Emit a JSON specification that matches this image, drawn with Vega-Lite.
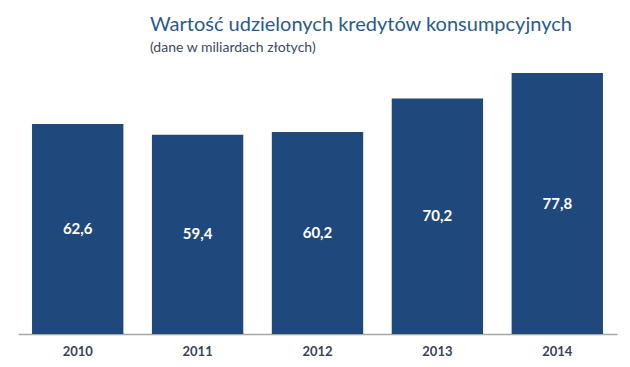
{
  "$schema": "https://vega.github.io/schema/vega-lite/v6.json",
  "width": 599,
  "height": 261,
  "autosize": {"type": "none"},
  "padding": {"left": 18, "top": 73, "right": 13, "bottom": 33},
  "background": "white",
  "view": {"stroke": null},
  "title": {
    "text": "Wartość udzielonych kredytów konsumpcyjnych",
    "subtitle": "(dane w miliardach złotych)",
    "anchor": "start",
    "dx": 132,
    "offset": 18,
    "font": "Lato",
    "fontSize": 20,
    "fontWeight": "normal",
    "color": "#2A5A8C",
    "subtitleFont": "Lato",
    "subtitleFontSize": 14,
    "subtitleColor": "#3A4A60",
    "subtitlePadding": 6
  },
  "data": {
    "values": [
      {"year": "2010", "value": 62.6, "label": "62,6"},
      {"year": "2011", "value": 59.4, "label": "59,4"},
      {"year": "2012", "value": 60.2, "label": "60,2"},
      {"year": "2013", "value": 70.2, "label": "70,2"},
      {"year": "2014", "value": 77.8, "label": "77,8"}
    ]
  },
  "encoding": {
    "x": {
      "field": "year",
      "type": "nominal",
      "scale": {"paddingInner": 0.238, "paddingOuter": 0.117},
      "axis": {
        "title": null,
        "labelAngle": 0,
        "ticks": false,
        "domainColor": "#A6A6A6",
        "domainWidth": 1.5,
        "labelFont": "Lato",
        "labelFontSize": 13,
        "labelFontWeight": "bold",
        "labelColor": "#364456",
        "labelPadding": 11
      }
    }
  },
  "layer": [
    {
      "mark": {"type": "bar", "color": "#1F497D"},
      "encoding": {
        "y": {"field": "value", "type": "quantitative", "scale": {"domain": [0, 77.8], "nice": false}, "axis": null}
      }
    },
    {
      "transform": [{"calculate": "datum.value / 2", "as": "mid"}],
      "mark": {"type": "text", "color": "white", "font": "Lato", "fontSize": 15, "fontWeight": "bold", "baseline": "middle"},
      "encoding": {
        "y": {"field": "mid", "type": "quantitative", "scale": {"domain": [0, 77.8], "nice": false}},
        "text": {"field": "label"}
      }
    }
  ]
}
